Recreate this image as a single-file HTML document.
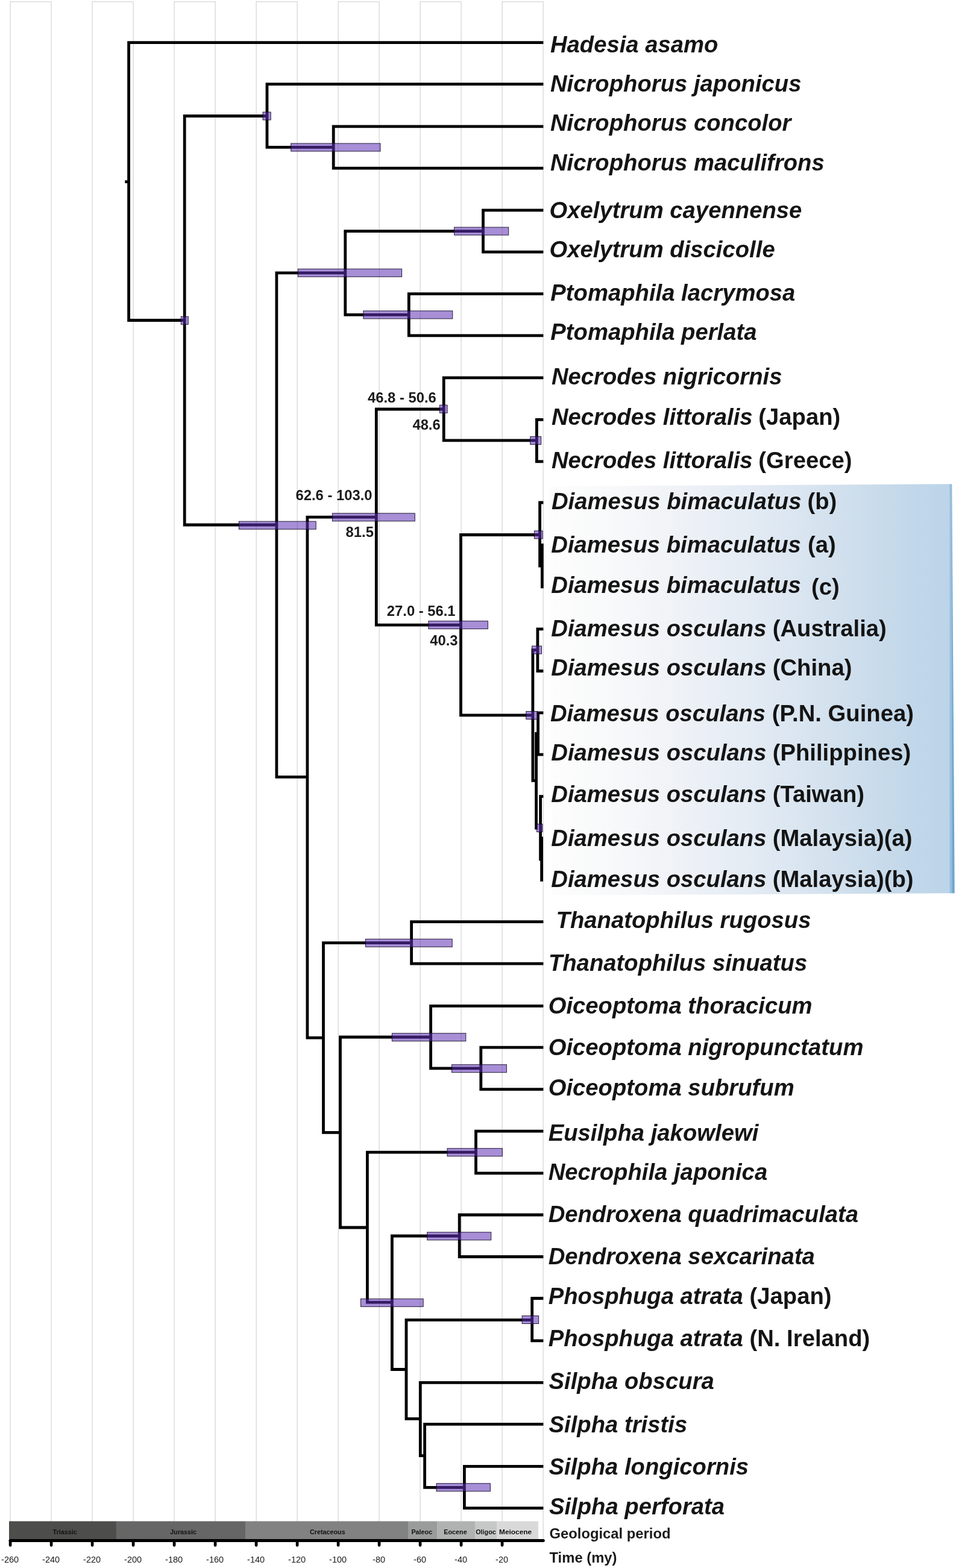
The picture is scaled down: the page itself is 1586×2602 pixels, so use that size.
<!DOCTYPE html>
<html lang="en"><head><meta charset="utf-8"><title>Dated phylogeny of Silphidae</title>
<style>html,body{margin:0;padding:0;background:#fff}svg{display:block}.sp{font:italic bold 38.25px "Liberation Sans",Arial,Helvetica,sans-serif;fill:#141414}.rm{font-style:normal}.nd{font:bold 23.8px "Liberation Sans",Arial,Helvetica,sans-serif;fill:#1a1a1a}.ax{font:14.5px "Liberation Sans",Arial,Helvetica,sans-serif;fill:#1a1a1a;text-anchor:middle}.pd{font:bold 11.4px "Liberation Sans",Arial,Helvetica,sans-serif;fill:#111}.tr{fill:none;stroke:#000;stroke-width:4.8;stroke-linecap:butt;stroke-linejoin:miter}.br{fill:#5f32b4;fill-opacity:.55;stroke:#140a28;stroke-opacity:.9;stroke-width:1}</style></head><body>
<svg width="1586" height="2602" viewBox="0 0 1586 2602">
<defs><linearGradient id="bg" x1="0" y1="0" x2="1" y2="0"><stop offset="0" stop-color="#fdfdfd"/><stop offset="0.15" stop-color="#f8f9fa"/><stop offset="0.3" stop-color="#f0f3f7"/><stop offset="0.5" stop-color="#e3ebf4"/><stop offset="0.7" stop-color="#d3e1ee"/><stop offset="0.85" stop-color="#c5d9ea"/><stop offset="0.987" stop-color="#bcd4e9"/><stop offset="0.989" stop-color="#98bfde"/><stop offset="0.993" stop-color="#94bcdc"/><stop offset="0.995" stop-color="#70a7d1"/><stop offset="1" stop-color="#6aa3ce"/></linearGradient></defs>
<rect width="1586" height="2602" fill="#fff"/>
<polygon points="911,806.9 1579.3,803.2 1583.7,1482.3 915.4,1485.7" fill="url(#bg)"/>
<g fill="none" stroke="#d2d2d2" stroke-width="1.15"><rect x="17.1" y="2.8" width="68" height="2553" /><rect x="153.1" y="2.8" width="68" height="2553" /><rect x="289.1" y="2.8" width="68" height="2553" /><rect x="425.1" y="2.8" width="68" height="2553" /><rect x="561.1" y="2.8" width="68" height="2553" /><rect x="697.1" y="2.8" width="68" height="2553" /><rect x="833.1" y="2.8" width="68" height="2553" /></g>
<path class="tr" d="M207.3,301.7H213.6M213.6,68.3V533.9M213.6,70.7H901.4M213.6,531.5H306.2M306.2,190.1V873.4M306.2,192.5H443.0M443.0,137.3V246.7M443.0,139.7H901.4M443.0,244.3H553.2M553.2,207.4V281.6M553.2,209.8H901.4M553.2,279.2H901.4M306.2,871.0H458.9M458.9,450.4V1291.7M458.9,452.8H572.8M572.8,381.2V524.8M572.8,383.6H801.5M801.5,346.4V420.6M801.5,348.8H901.4M801.5,418.2H901.4M572.8,522.4H678.3M678.3,485.2V559.2M678.3,487.6H901.4M678.3,556.8H901.4M458.9,1289.3H509.9M509.9,855.7V1724.6M509.9,858.1H624.3M624.3,676.6V1039.5M624.3,679.0H736.2M736.2,624.4V733.3M736.2,626.8H901.4M736.2,730.9H890.4M890.4,694.0V768.2M890.4,696.4H901.4M890.4,765.8H901.4M624.3,1037.1H764.5M764.5,885.1V1189.2M764.5,887.5H895.6M895.6,831.6V941.5M895.6,834.0H901.4M899.4,902.0V976.3M764.5,1186.8H883.9M883.9,1076.2V1297.8M883.9,1078.6H891.9M891.9,1041.5V1115.9M891.9,1043.9H901.4M891.9,1113.5H901.4M883.9,1295.4H889.6M889.6,1214.9V1376.4M890.2,1182.8H901.4M892.6,1180.4V1254.5M889.6,1252.1H901.4M894.2,1321.7H901.4M896.6,1319.3V1428.3M898.6,1388.4V1462.8M509.9,1722.2H536.5M536.5,1562.2V1881.7M536.5,1564.6H682.6M682.6,1527.2V1601.6M682.6,1529.6H901.4M682.6,1599.2H901.4M536.5,1879.3H564.5M564.5,1718.6V2039.4M564.5,1721.0H714.6M714.6,1666.9V1775.3M714.6,1669.3H901.4M714.6,1772.9H797.8M797.8,1735.7V1810.0M797.8,1738.1H901.4M797.8,1807.6H901.4M564.5,2037.0H609.4M609.4,1909.8V2163.6M609.4,1912.2H789.5M789.5,1874.7V1949.2M789.5,1877.1H901.4M789.5,1946.8H901.4M609.4,2161.2H650.4M650.4,2048.6V2274.9M650.4,2051.0H762.2M762.2,2013.6V2087.9M762.2,2016.0H901.4M762.2,2085.5H901.4M650.4,2272.5H674.0M674.0,2188.0V2356.8M674.0,2190.4H882.7M882.7,2152.1V2227.2M882.7,2154.5H901.4M882.7,2224.8H901.4M674.0,2354.4H697.3M697.3,2291.9V2418.1M697.3,2294.3H901.4M697.3,2415.7H704.6M704.6,2361.0V2470.7M704.6,2363.4H901.4M704.6,2468.3H770.4M770.4,2430.9V2505.0M770.4,2433.3H901.4M770.4,2502.6H901.4"/>
<g class="br"><rect x="436.1" y="186.0" width="13.1" height="13"/><rect x="482.7" y="238.0" width="148.3" height="13"/><rect x="300.3" y="525.3" width="12.0" height="13"/><rect x="753.6" y="377.1" width="90.1" height="13"/><rect x="494.3" y="446.3" width="172.3" height="13"/><rect x="602.8" y="515.9" width="148.0" height="13"/><rect x="729.4" y="672.2" width="12.7" height="13"/><rect x="879.7" y="724.5" width="18.0" height="13"/><rect x="396.4" y="865.2" width="127.8" height="13"/><rect x="551.4" y="851.8" width="136.9" height="13"/><rect x="886.4" y="880.9" width="13.8" height="13"/><rect x="710.9" y="1030.6" width="98.5" height="13"/><rect x="882.5" y="1072.0" width="16.0" height="13"/><rect x="872.8" y="1180.5" width="18.7" height="13"/><rect x="890.6" y="1367.5" width="9.4" height="13"/><rect x="606.5" y="1558.3" width="143.7" height="13"/><rect x="650.4" y="1714.7" width="122.4" height="13"/><rect x="749.6" y="1766.7" width="90.8" height="13"/><rect x="742.0" y="1905.7" width="91.4" height="13"/><rect x="708.7" y="2044.8" width="106.0" height="13"/><rect x="598.5" y="2155.3" width="103.7" height="13"/><rect x="866.1" y="2183.5" width="27.5" height="13"/><rect x="724.0" y="2461.7" width="89.4" height="13"/></g>
<text class="nd" x="610.0" y="667.8">46.8 - 50.6</text>
<text class="nd" x="684.4" y="713.3">48.6</text>
<text class="nd" x="490.5" y="830.0">62.6 - 103.0</text>
<text class="nd" x="573.6" y="891.4">81.5</text>
<text class="nd" x="641.8" y="1022.0">27.0 - 56.1</text>
<text class="nd" x="713.2" y="1070.9">40.3</text>
<text class="sp" x="912.9" y="87.1">Hadesia asamo</text>
<text class="sp" x="912.9" y="151.8">Nicrophorus japonicus</text>
<text class="sp" x="912.9" y="217.0">Nicrophorus concolor</text>
<text class="sp" x="912.9" y="282.5">Nicrophorus maculifrons</text>
<text class="sp" x="911.5" y="362.3">Oxelytrum cayennense</text>
<text class="sp" x="911.5" y="427.4">Oxelytrum discicolle</text>
<text class="sp" x="913.3" y="498.6">Ptomaphila lacrymosa</text>
<text class="sp" x="913.3" y="563.7">Ptomaphila perlata</text>
<text class="sp" x="914.9" y="637.5">Necrodes nigricornis</text>
<text class="sp" x="914.9" y="705.0">Necrodes littoralis<tspan class="rm" x="1258.3">(Japan)</tspan></text>
<text class="sp" x="914.9" y="776.6">Necrodes littoralis<tspan class="rm" x="1258.3">(Greece)</tspan></text>
<text class="sp" x="914.9" y="845.2">Diamesus bimaculatus<tspan class="rm" x="1339.4">(b)</tspan></text>
<text class="sp" x="914.3" y="916.5">Diamesus bimaculatus<tspan class="rm" x="1340.0">(a)</tspan></text>
<text class="sp" x="914.3" y="984.2">Diamesus bimaculatus<tspan class="rm" x="1346.0" dy="2.3">(c)</tspan></text>
<text class="sp" x="914.3" y="1056.0">Diamesus osculans<tspan class="rm" x="1281.7">(Australia)</tspan></text>
<text class="sp" x="914.3" y="1121.0">Diamesus osculans<tspan class="rm" x="1281.7">(China)</tspan></text>
<text class="sp" x="912.9" y="1197.0">Diamesus osculans<tspan class="rm" x="1280.8">(P.N. Guinea)</tspan></text>
<text class="sp" x="914.3" y="1262.2">Diamesus osculans<tspan class="rm" x="1281.7">(Philippines)</tspan></text>
<text class="sp" x="914.3" y="1331.0">Diamesus osculans<tspan class="rm" x="1281.7">(Taiwan)</tspan></text>
<text class="sp" x="914.3" y="1403.6">Diamesus osculans<tspan class="rm" x="1281.7">(Malaysia)(a)</tspan></text>
<text class="sp" x="914.3" y="1472.0">Diamesus osculans<tspan class="rm" x="1281.7">(Malaysia)(b)</tspan></text>
<text class="sp" x="922.6" y="1540.0">Thanatophilus rugosus</text>
<text class="sp" x="909.9" y="1610.9">Thanatophilus sinuatus</text>
<text class="sp" x="909.7" y="1681.8">Oiceoptoma thoracicum</text>
<text class="sp" x="909.7" y="1751.2">Oiceoptoma nigropunctatum</text>
<text class="sp" x="909.7" y="1818.3">Oiceoptoma subrufum</text>
<text class="sp" x="909.7" y="1892.5">Eusilpha jakowlewi</text>
<text class="sp" x="909.7" y="1957.7">Necrophila japonica</text>
<text class="sp" x="909.7" y="2027.6">Dendroxena quadrimaculata</text>
<text class="sp" x="909.7" y="2097.5">Dendroxena sexcarinata</text>
<text class="sp" x="909.7" y="2164.3">Phosphuga atrata<tspan class="rm" x="1243.5">(Japan)</tspan></text>
<text class="sp" x="909.7" y="2233.5">Phosphuga atrata<tspan class="rm" x="1243.5">(N. Ireland)</tspan></text>
<text class="sp" x="910.6" y="2305.2">Silpha obscura</text>
<text class="sp" x="910.6" y="2377.0">Silpha tristis</text>
<text class="sp" x="910.6" y="2446.5">Silpha longicornis</text>
<text class="sp" x="910.9" y="2512.5">Silpha perforata</text>
<rect x="15.0" y="2524.4" width="178.0" height="30" fill="#4d4d4b"/>
<rect x="192.7" y="2524.4" width="215.1" height="30" fill="#666666"/>
<rect x="407.5" y="2524.4" width="269.8" height="30" fill="#828282"/>
<rect x="677.0" y="2524.4" width="48.6" height="30" fill="#9a9c9b"/>
<rect x="725.3" y="2524.4" width="62.9" height="30" fill="#b0b2b1"/>
<rect x="787.9" y="2524.4" width="36.3" height="30" fill="#c6c8c7"/>
<rect x="823.9" y="2524.4" width="69.2" height="30" fill="#d9d9d9"/>
<text class="pd" transform="translate(87.6,2545.9) scale(0.947,1)">Triassic</text>
<text class="pd" transform="translate(282.3,2545.9) scale(0.947,1)">Jurassic</text>
<text class="pd" transform="translate(513.9,2545.9) scale(0.947,1)">Cretaceous</text>
<text class="pd" transform="translate(682.4,2545.9) scale(0.947,1)">Paleoc</text>
<text class="pd" transform="translate(736.3,2545.9) scale(0.947,1)">Eocene</text>
<text class="pd" transform="translate(789.2,2545.9) scale(0.947,1)">Oligoc</text>
<text class="pd" transform="translate(828.0,2545.9) scale(1.045,1)">Meiocene</text>
<path d="M17.1,2556.4H901.3" fill="none" stroke="#000" stroke-width="5" stroke-linecap="round"/>
<path d="M17.1,2556.4V2564.3M85.1,2556.4V2564.3M153.1,2556.4V2564.3M221.1,2556.4V2564.3M289.1,2556.4V2564.3M357.1,2556.4V2564.3M425.1,2556.4V2564.3M493.1,2556.4V2564.3M561.1,2556.4V2564.3M629.1,2556.4V2564.3M697.1,2556.4V2564.3M765.1,2556.4V2564.3M833.1,2556.4V2564.3" fill="none" stroke="#000" stroke-width="4.7" stroke-linecap="round"/>
<text class="ax" x="16.6" y="2593.1">-260</text>
<text class="ax" x="84.6" y="2593.1">-240</text>
<text class="ax" x="152.6" y="2593.1">-220</text>
<text class="ax" x="220.6" y="2593.1">-200</text>
<text class="ax" x="288.6" y="2593.1">-180</text>
<text class="ax" x="356.6" y="2593.1">-160</text>
<text class="ax" x="424.6" y="2593.1">-140</text>
<text class="ax" x="492.6" y="2593.1">-120</text>
<text class="ax" x="560.6" y="2593.1">-100</text>
<text class="ax" x="628.6" y="2593.1">-80</text>
<text class="ax" x="696.6" y="2593.1">-60</text>
<text class="ax" x="764.6" y="2593.1">-40</text>
<text class="ax" x="832.6" y="2593.1">-20</text>
<text class="nd" x="911.5" y="2552.8">Geological period</text>
<text class="nd" x="911.5" y="2593.0">Time (my)</text>
</svg></body></html>
